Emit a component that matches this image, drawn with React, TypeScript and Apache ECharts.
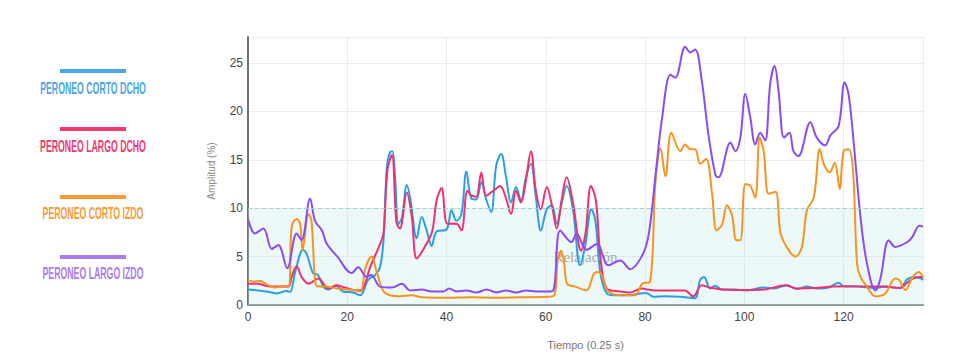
import React, { useEffect, useRef } from "react";
import * as echarts from "echarts";

const seriesNames = [
  "PERONEO CORTO DCHO",
  "PERONEO LARGO DCHO",
  "PERONEO CORTO IZDO",
  "PERONEO LARGO IZDO",
];

const xTicksMax = 136;
const yMax = 27.7;
const relaxLevel = 10;
const relaxLabel = "Relajación";
const xTitle = "Tiempo (0.25 s)";
const yTitle = "Amplitud (%)";

const cortoDcho: [number, number][] = [
  [0, 1.6], [2, 1.5], [3.7, 1.4], [5.8, 1.2], [7.8, 1.45], [8.5, 1.35], [9.5, 3.4], [11.1, 5.7], [11.8, 5.3],
  [13.1, 3.3], [14.1, 3.1], [15.2, 1.9], [16.2, 1.6], [17.8, 2.0], [19.1, 1.4], [21.2, 1.3], [22.6, 1.0],
  [24.2, 2.6], [25.6, 3.1], [26.6, 3.9], [27.3, 6.7], [27.96, 14.2], [28.6, 15.8], [29.1, 15.9], [29.6, 13.5],
  [30.3, 8.4], [31, 9.0], [32, 12.4], [32.7, 11.0], [34, 6.9], [35, 9.1], [36, 7.7], [37, 6.1], [38, 7.6],
  [40, 7.8], [41, 9.8], [42, 8.7], [43, 9.4], [44, 13.8], [45, 11.0], [46, 10.9], [47, 12.7], [48, 10.9],
  [49, 9.6], [50, 14.4], [51, 15.6], [52, 13.2], [53, 10.6], [54, 12.2], [55, 10.8], [56, 13.2], [57, 14.6],
  [58, 11.1], [59, 7.7], [60.2, 9.9], [61.2, 10.3], [62.2, 8.4], [63.2, 10.5], [64.2, 12.3], [65.5, 9.8],
  [66.9, 4.1], [67.9, 6.0], [69.2, 9.9], [70, 8.7], [71, 3.3], [72.3, 1.2], [74, 1.0], [76.6, 1.0], [78, 1.1],
  [80.2, 1.25], [81.7, 0.85], [84, 0.9], [87, 0.85], [90, 0.7], [91.1, 2.6], [91.9, 2.9], [93.1, 1.7],
  [94.1, 2.0], [95.5, 1.6], [98, 1.6], [100.5, 1.5], [103.9, 1.8], [106, 1.7], [108.6, 2.05], [110.6, 1.65],
  [112.6, 1.9], [114.6, 1.7], [117, 1.8], [119, 2.3], [120, 1.95], [123, 1.9], [126.4, 1.75], [128.5, 1.9],
  [131.3, 1.75], [132.8, 2.65], [134.1, 2.9], [135.5, 2.75], [136, 2.6],
];

const largoDcho: [number, number][] = [
  [0, 2.2], [2, 2.2], [3.5, 2.0], [5.1, 1.9], [8.1, 1.9], [8.8, 2.9], [9.8, 4.0], [10.8, 2.9], [12.2, 2.2],
  [14.2, 2.75], [16.2, 1.7], [17.8, 2.05], [19.5, 1.8], [21.9, 1.5], [23, 1.6], [24.6, 3.9], [26.6, 6.3],
  [27.3, 7.4], [28.1, 14.0], [29, 15.5], [29.9, 8.6], [30.6, 7.9], [32, 11.6], [33, 9.1], [34, 4.8],
  [35.6, 6.0], [37.1, 7.6], [38, 10.8], [39, 12.1], [40.2, 8.4], [42, 8.4], [43, 7.7], [44.2, 11.8],
  [45, 11.3], [46, 11.2], [47, 13.7], [48, 11.3], [49.4, 11.8], [50.8, 12.3], [52, 11.0], [53, 9.4],
  [54, 11.8], [55, 10.6], [56, 12.9], [57, 15.9], [58, 11.8], [59, 9.9], [60.2, 12.2], [61.2, 10.4],
  [62.2, 7.9], [63.2, 10.9], [64.2, 13.2], [65.5, 10.5], [67.1, 5.6], [68, 7.4], [69.1, 12.3], [70.1, 10.8],
  [71, 5.0], [72.3, 1.7], [75, 1.4], [77, 1.3], [79.4, 1.7], [80.4, 1.6], [82, 1.5], [85, 1.5], [88, 1.5],
  [89.7, 0.9], [91.4, 2.05], [93, 1.8], [95.5, 1.6], [100, 1.55], [104, 1.6], [108.3, 2.05], [110.5, 1.7],
  [114, 1.75], [118, 1.9], [121, 1.95], [124, 1.9], [128, 1.9], [131.3, 1.75], [132.8, 2.3], [134.1, 2.75],
  [135.5, 2.9], [136, 2.8],
];

const cortoIzdo: [number, number][] = [
  [0, 2.6], [1.3, 2.4], [2.5, 2.5], [3.5, 2.2], [5.4, 1.8], [6.4, 1.9], [8.1, 1.9], [8.8, 8.1], [9.8, 8.9],
  [10.5, 8.4], [11, 5.7], [12.2, 9.4], [12.8, 8.7], [13.5, 2.6], [14.1, 1.9], [15.7, 1.9], [18, 1.7],
  [21.2, 1.55], [22.6, 1.4], [23.7, 3.9], [24.9, 5.0], [25.9, 3.5], [27.2, 1.5], [28.6, 1.0], [30.6, 0.9],
  [33, 1.0], [35, 0.8], [40, 0.75], [45, 0.8], [50, 0.75], [55, 0.8], [60.2, 0.85], [61.7, 1.0], [62.4, 4.6],
  [63.1, 5.6], [63.7, 4.3], [64.3, 2.2], [65.9, 1.9], [68.2, 1.5], [69.8, 3.3], [70.8, 3.4], [71.6, 2.6],
  [72.6, 1.4], [75.3, 1.0], [78, 1.0], [79.4, 2.2], [81, 2.4], [82.1, 12.7], [83.1, 16.2], [84.1, 13.3],
  [85.3, 17.8], [87.1, 15.9], [88.1, 16.6], [89.1, 16.1], [90.1, 16.1], [91.1, 14.6], [92.3, 15.1],
  [93.5, 11.5], [94.4, 7.7], [95.5, 8.3], [96.5, 10.3], [97.5, 9.3], [98.4, 6.7], [99.2, 6.7], [100.2, 12.5],
  [101.2, 12.3], [102.2, 11.1], [103.1, 17.3], [103.9, 15.9], [104.9, 11.5], [106.3, 11.7], [107.3, 7.4],
  [108.9, 5.7], [110.3, 5.0], [111.6, 6.0], [112.6, 9.8], [114, 11.1], [115.2, 16.1], [116, 14.6],
  [117.2, 13.7], [118.2, 14.7], [119.2, 12.0], [120, 15.9], [121, 16.1], [121.9, 13.9], [122.7, 4.3],
  [123.4, 2.9], [124.7, 1.9], [126.4, 0.9], [128.4, 1.2], [130.4, 2.75], [131.2, 2.6], [132.5, 1.55],
  [133.8, 2.75], [135.1, 3.4], [136, 2.9],
];

const largoIzdo: [number, number][] = [
  [0, 8.9], [1.4, 7.4], [3.1, 7.9], [4.8, 5.8], [6.1, 6.2], [7.9, 3.8], [9.8, 7.4], [10.8, 6.7], [12.5, 11.0],
  [13.5, 8.7], [14.9, 7.7], [15.9, 6.3], [18, 5.0], [20.9, 3.3], [22.2, 3.9], [23.9, 2.9], [24.8, 3.1],
  [26.6, 1.9], [29, 1.8], [31, 2.2], [32.7, 1.5], [35, 1.6], [37, 1.4], [39.4, 1.4], [40.5, 1.7], [42, 1.4],
  [44, 1.5], [46, 1.3], [48.1, 1.6], [50, 1.3], [52, 1.5], [54, 1.3], [56, 1.5], [58, 1.4], [60.2, 1.4],
  [61.5, 1.5], [62.9, 7.7], [65.2, 6.5], [66.2, 7.4], [68.2, 5.7], [70.3, 6.3], [72.6, 4.1], [75, 4.6],
  [77, 3.7], [79.3, 5.0], [80.7, 7.2], [82.1, 13.4], [83.4, 19.2], [85.1, 23.8], [86.1, 23.5], [88.1, 26.7],
  [89.1, 26.1], [90.1, 26.4], [91.4, 23.3], [92.8, 17.5], [94.2, 13.4], [94.8, 13.2], [97.2, 16.8],
  [98.2, 15.9], [99.2, 17.3], [100.2, 21.8], [101.2, 19.4], [102.2, 16.6], [103.2, 17.8], [104.2, 17.0],
  [105.2, 22.8], [106.1, 24.7], [106.9, 22.1], [108, 17.3], [109.1, 17.8], [109.9, 15.9], [110.9, 15.4],
  [113.3, 18.9], [114.6, 17.3], [116.3, 16.5], [117.3, 17.5], [119, 18.5], [120.2, 23.0], [121, 21.8],
  [122, 17.0], [123.4, 9.1], [124.7, 4.3], [126.4, 1.5], [127.4, 2.7], [129.1, 6.7], [130.4, 6.0],
  [132.8, 6.5], [133.8, 7.0], [135.3, 8.2], [136, 8.1],
];

const seriesData = [cortoDcho, largoDcho, cortoIzdo, largoIzdo];
const lineColors = ["#2c9fe4", "#f1306e", "#f7941e", "#8a4cf4"];
const legendTextColors = ["#4aa6e8", "#f0396f", "#f89a36", "#a77cf2"];
const legendLineY = [71, 129, 197, 257];
const legendTextY = [88, 146, 213, 273];

export default function App() {
  const ref = useRef<HTMLDivElement>(null);
  useEffect(() => {
    if (!ref.current) return;
    const chart = echarts.init(ref.current, undefined, { renderer: "svg" });
    const graphics: any[] = [];
    seriesNames.forEach((name, i) => {
      graphics.push({
        type: "rect",
        shape: { x: 60, y: legendLineY[i] - 2, width: 66, height: 4 },
        style: { fill: legendTextColors[i] },
      });
      graphics.push({
        type: "text",
        x: 93,
        y: legendTextY[i],
        scaleX: 0.53,
        style: {
          text: name,
          fill: legendTextColors[i],
          fontFamily: "Liberation Sans",
          fontWeight: "bold",
          fontSize: 16.5,
          textAlign: "center",
          textVerticalAlign: "middle",
        },
      });
    });
    chart.setOption({
      animation: false,
      backgroundColor: "#ffffff",
      grid: { left: 248, right: 37, top: 37, bottom: 59 },
      graphic: graphics,
      xAxis: {
        type: "value",
        min: 0,
        max: xTicksMax,
        interval: 20,
        name: xTitle,
        nameLocation: "middle",
        nameGap: 34,
        nameTextStyle: { color: "#777", fontSize: 11, fontFamily: "Liberation Sans, Arial, sans-serif" },
        axisLine: { show: true, lineStyle: { color: "#8a8f8f", width: 2 } },
        axisTick: { show: false },
        axisLabel: { color: "#444", fontSize: 12, margin: 6, fontFamily: "Liberation Sans, Arial, sans-serif", showMaxLabel: false },
        splitLine: { show: true, lineStyle: { color: "#ececec", width: 1 } },
      },
      yAxis: {
        type: "value",
        min: 0,
        max: yMax,
        interval: 5,
        name: yTitle,
        nameLocation: "middle",
        nameGap: 32,
        nameTextStyle: { color: "#888", fontSize: 10, fontFamily: "Liberation Sans, Arial, sans-serif" },
        axisLine: { show: true, lineStyle: { color: "#6f7575", width: 2 } },
        axisTick: { show: false },
        axisLabel: { color: "#444", fontSize: 12, margin: 5, fontFamily: "Liberation Sans, Arial, sans-serif", showMaxLabel: false },
        splitLine: { show: true, lineStyle: { color: "#ececec", width: 1 } },
      },
      series: [
        {
          type: "line",
          name: "relax",
          data: [],
          silent: true,
          markArea: {
            silent: true,
            itemStyle: { color: "rgba(190,232,232,0.28)" },
            label: {
              show: true,
              position: "inside",
              color: "rgba(140,140,140,0.75)",
              fontSize: 15,
              fontFamily: "Liberation Serif, DejaVu Serif, serif",
            },
            data: [[{ yAxis: 0, name: relaxLabel }, { yAxis: relaxLevel }]],
          },
          markLine: {
            silent: true,
            symbol: "none",
            label: { show: false },
            lineStyle: { color: "#9fd2d2", type: [4, 3], width: 1 },
            data: [{ yAxis: relaxLevel }],
          },
        },
        ...seriesNames.map((name, i) => ({
          type: "line",
          name,
          data: seriesData[i],
          smooth: 0.35,
          showSymbol: false,
          symbol: "none",
          lineStyle: { color: lineColors[i], width: 2 },
          itemStyle: { color: lineColors[i] },
          z: 3,
        })),
      ],
    });
    return () => chart.dispose();
  }, []);
  return <div ref={ref} style={{ width: 960, height: 364, position: "absolute", left: 0, top: 0 }} />;
}
